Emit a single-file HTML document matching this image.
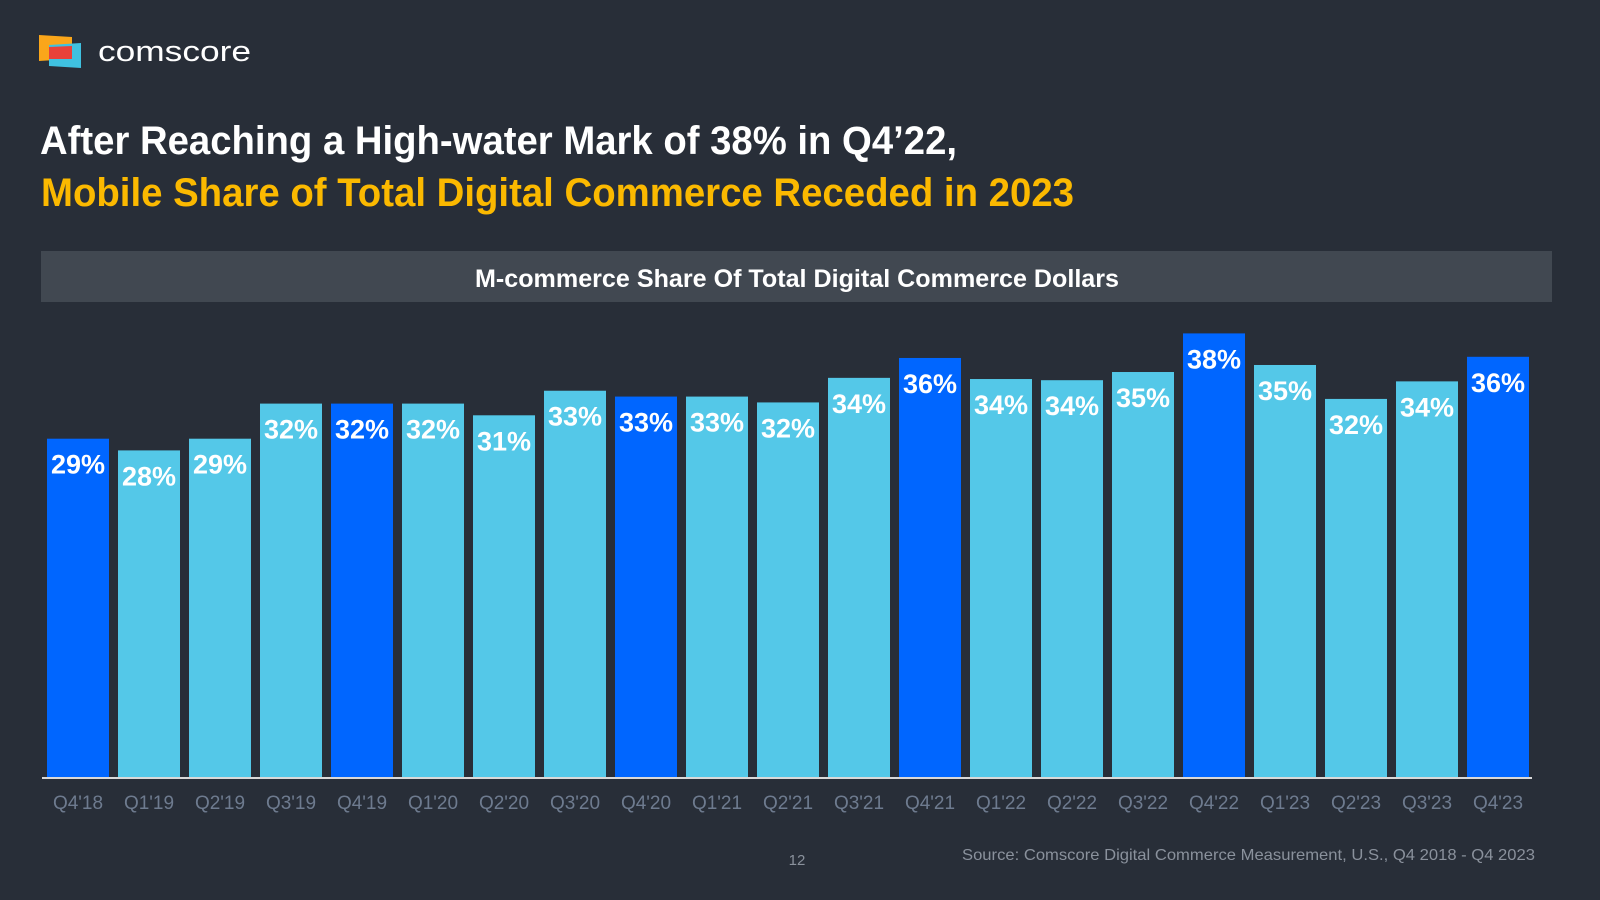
<!DOCTYPE html>
<html><head><meta charset="utf-8"><style>
html,body{margin:0;padding:0;background:#282E38;}
svg{display:block;font-family:"Liberation Sans",Arial,sans-serif;}
</style></head><body>
<svg id="chart" width="1600" height="900" viewBox="0 0 1600 900">
<rect width="1600" height="900" fill="#282E38"/>
<g>
<polygon points="39,35 72,37 72,59 39,61" fill="#FAA61A"/>
<polygon points="49,45 81,43 81,68 49,66" fill="#3FC1E0"/>
<polygon points="49,47 72,46 72,59 49,59" fill="#E8413A"/>
<text x="98" y="61" font-size="29" fill="#fff" textLength="153" lengthAdjust="spacingAndGlyphs">comscore</text>
</g>
<text x="40" y="154" font-size="40" font-weight="bold" fill="#fff" textLength="917" lengthAdjust="spacingAndGlyphs">After Reaching a High-water Mark of 38% in Q4’22,</text>
<text x="41" y="206" font-size="40" font-weight="bold" fill="#FBB900" textLength="1033" lengthAdjust="spacingAndGlyphs">Mobile Share of Total Digital Commerce Receded in 2023</text>
<rect x="41" y="251" width="1511" height="51" fill="#414851"/>
<text x="797" y="287" font-size="25" font-weight="bold" fill="#fff" text-anchor="middle" textLength="644" lengthAdjust="spacingAndGlyphs">M-commerce Share Of Total Digital Commerce Dollars</text>
<g id="bars"></g>
<line x1="42" y1="778" x2="1532" y2="778" stroke="#D9D9D9" stroke-width="2"/>
<text x="797" y="865" font-size="15" fill="#8A919C" text-anchor="middle">12</text>
<text x="962" y="860" font-size="16" fill="#8A919C" textLength="573" lengthAdjust="spacingAndGlyphs">Source: Comscore Digital Commerce Measurement, U.S., Q4 2018 - Q4 2023</text>
</svg>
<script>
const categories = ["Q4'18","Q1'19","Q2'19","Q3'19","Q4'19","Q1'20","Q2'20","Q3'20","Q4'20","Q1'21","Q2'21","Q3'21","Q4'21","Q1'22","Q2'22","Q3'22","Q4'22","Q1'23","Q2'23","Q3'23","Q4'23"];
const values = [29.0,28.0,29.0,32.0,32.0,32.0,31.0,33.1,32.6,32.6,32.1,34.2,35.9,34.1,34.0,34.7,38.0,35.3,32.4,33.9,36.0];
const labels = ["29%","28%","29%","32%","32%","32%","31%","33%","33%","33%","32%","34%","36%","34%","34%","35%","38%","35%","32%","34%","36%"];
const highlight = [true,false,false,false,true,false,false,false,true,false,false,false,true,false,false,false,true,false,false,false,true];

const NS = "http://www.w3.org/2000/svg";
const baseY = 778, pxPerPt = 11.7, x0 = 47, pitch = 71, bw = 62;
function xPos(i){ return x0 + i*pitch; }
function yPos(v){ return baseY - v*pxPerPt; }
const g = document.getElementById('bars');
categories.forEach((c,i)=>{
  const v = values[i];
  const r = document.createElementNS(NS,'rect');
  r.setAttribute('x', xPos(i)); r.setAttribute('y', yPos(v));
  r.setAttribute('width', bw); r.setAttribute('height', baseY - yPos(v));
  r.setAttribute('fill', highlight[i] ? '#0066FF' : '#54C8E8');
  
  
  g.appendChild(r);
  const t = document.createElementNS(NS,'text');
  t.setAttribute('x', xPos(i)+bw/2); t.setAttribute('y', yPos(v)+35);
  t.setAttribute('font-size','27'); t.setAttribute('font-weight','bold');
  t.setAttribute('fill','#fff'); t.setAttribute('text-anchor','middle');
  t.textContent = labels[i];
  
  
  g.appendChild(t);
  const xl = document.createElementNS(NS,'text');
  xl.setAttribute('x', xPos(i)+bw/2); xl.setAttribute('y', 809);
  xl.setAttribute('font-size','19'); xl.setAttribute('fill','#6E7B8F');
  xl.setAttribute('text-anchor','middle');
  xl.textContent = c;
  
  
  g.appendChild(xl);
});
</script>
</body></html>
